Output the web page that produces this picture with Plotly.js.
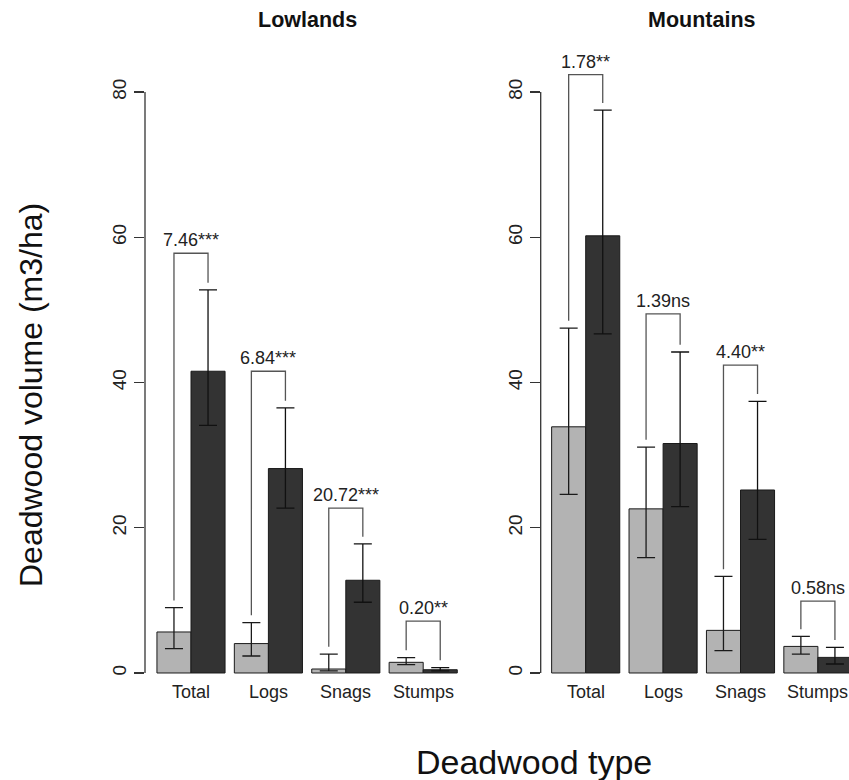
<!DOCTYPE html>
<html>
<head>
<meta charset="utf-8">
<script src="https://cdn.plot.ly/plotly-3.0.1.min.js"></script>
<style>html,body{margin:0;padding:0;background:#fff;}#chart{width:849px;height:780px;}</style>
</head>
<body>
<div id="chart"></div>
<script>
// ---------------- data ----------------
const categories = ['Total', 'Logs', 'Snags', 'Stumps'];
const panelTitles = ['Lowlands', 'Mountains'];
const yTicks = [0, 20, 40, 60, 80];

// Lowlands
const lowLight    = [5.65, 4.05, 0.55, 1.47];
const lowLightHi  = [9.0, 6.94, 2.6, 2.12];
const lowLightLo  = [3.36, 2.34, 0.28, 1.16];
const lowDark     = [41.55, 28.15, 12.77, 0.45];
const lowDarkHi   = [52.75, 36.5, 17.77, 0.75];
const lowDarkLo   = [34.1, 22.7, 9.74, 0.3];
const lowBracket  = [57.8, 41.55, 22.7, 7.15];
const lowLabels   = ['7.46***', '6.84***', '20.72***', '0.20**'];

// Mountains
const mtLight     = [33.9, 22.6, 5.87, 3.66];
const mtLightHi   = [47.5, 31.1, 13.3, 5.04];
const mtLightLo   = [24.6, 15.9, 3.07, 2.6];
const mtDark      = [60.2, 31.6, 25.2, 2.15];
const mtDarkHi    = [77.5, 44.2, 37.4, 3.53];
const mtDarkLo    = [46.7, 22.9, 18.4, 1.24];
const mtBracket   = [82.4, 49.45, 42.4, 9.9];
const mtLabels    = ['1.78**', '1.39ns', '4.40**', '0.58ns'];

// ---------------- layout helpers ----------------
const W = 849, H = 780;
const FONT = 'Liberation Sans, Arial, Helvetica, sans-serif';
const LIGHT = '#b3b3b3', DARK = '#333333';
const bargap = 0.12;
const legGap = 1.0;       // gap between error bar top and bracket leg
const idx = categories.map((c, i) => i);

const zeroPx = 673, pxPerUnit = 7.2625;
const yRange = [-0.3, 88];
const yDom = [(H - (zeroPx - yRange[0] * pxPerUnit)) / H, (H - (zeroPx - yRange[1] * pxPerUnit)) / H];

const spacing = 77.4;
const panels = [
  {axisPx: 145, c0: 191, rightPx: 475},
  {axisPx: 540.7, c0: 585.7, rightPx: 849}
];

const sets = [
  {a: lowLight, aHi: lowLightHi, aLo: lowLightLo, b: lowDark, bHi: lowDarkHi, bLo: lowDarkLo, br: lowBracket, lab: lowLabels},
  {a: mtLight, aHi: mtLightHi, aLo: mtLightLo, b: mtDark, bHi: mtDarkHi, bLo: mtDarkLo, br: mtBracket, lab: mtLabels}
];

const traces = [];
const annotations = [];
const shapes = [];
const layout = {
  width: W, height: H,
  margin: {l: 0, r: 0, t: 0, b: 0},
  paper_bgcolor: '#fff', plot_bgcolor: '#fff',
  barmode: 'group', bargap: bargap, bargroupgap: 0,
  showlegend: false,
  font: {family: FONT, color: '#222'}
};

const off = (1 - bargap) / 4;

sets.forEach((s, p) => {
  const xa = p === 0 ? 'x' : 'x2';
  const ya = p === 0 ? 'y' : 'y2';
  const pan = panels[p];
  const errA = {type: 'data', symmetric: false,
    array: s.a.map((v, i) => s.aHi[i] - v), arrayminus: s.a.map((v, i) => v - s.aLo[i]),
    color: '#1a1a1a', thickness: 1.3, width: 9};
  const errB = {type: 'data', symmetric: false,
    array: s.b.map((v, i) => s.bHi[i] - v), arrayminus: s.b.map((v, i) => v - s.bLo[i]),
    color: '#111', thickness: 1.3, width: 9};
  traces.push({type: 'bar', x: idx, y: s.a, xaxis: xa, yaxis: ya,
    marker: {color: LIGHT, line: {color: '#1a1a1a', width: 1}}, error_y: errA, hoverinfo: 'skip'});
  traces.push({type: 'bar', x: idx, y: s.b, xaxis: xa, yaxis: ya,
    marker: {color: DARK, line: {color: '#1a1a1a', width: 1}}, error_y: errB, hoverinfo: 'skip'});
  // brackets
  const bx = [], by = [];
  idx.forEach(i => {
    bx.push(i - off, i - off, i + off, i + off, null);
    by.push(s.aHi[i] + legGap, s.br[i], s.br[i], s.bHi[i] + legGap, null);
  });
  traces.push({type: 'scatter', mode: 'lines', x: bx, y: by, xaxis: xa, yaxis: ya,
    line: {color: '#555', width: 1.3}, hoverinfo: 'skip', cliponaxis: false});
  // bracket labels
  idx.forEach(i => {
    annotations.push({xref: xa, yref: ya, x: i, y: s.br[i], text: s.lab[i], showarrow: false,
      yanchor: 'middle', yshift: 13, font: {family: FONT, size: 18, color: '#222'}});
  });
  // category labels (as annotations so the last one is never dropped at the edge)
  idx.forEach(i => {
    annotations.push({xref: xa, yref: 'paper', x: i, y: (H - 692) / H, text: categories[i], showarrow: false,
      xanchor: 'center', yanchor: 'middle', font: {family: FONT, size: 18, color: '#222'}});
  });
  // panel title
  annotations.push({xref: xa, yref: 'paper', x: (idx[0] + idx[idx.length - 1]) / 2, y: (H - 20) / H,
    text: '<b>' + panelTitles[p] + '</b>', showarrow: false, yanchor: 'middle',
    font: {family: FONT, size: 21.5, color: '#111'}});
  // y axis line from 0 to 80
  shapes.push({type: 'line', xref: xa + ' domain', yref: ya, x0: 0, x1: 0,
    y0: yTicks[0], y1: yTicks[yTicks.length - 1], line: {color: '#333', width: 1.3}});

  const xmin = -(pan.c0 - pan.axisPx) / spacing;
  const xmax = (pan.rightPx - pan.c0) / spacing;
  layout[p === 0 ? 'xaxis' : 'xaxis2'] = {
    domain: [pan.axisPx / W, pan.rightPx / W], range: [xmin, xmax], anchor: ya,
    showticklabels: false, ticks: '', showline: false, showgrid: false, zeroline: false,
    fixedrange: true
  };
  layout[p === 0 ? 'yaxis' : 'yaxis2'] = {
    domain: yDom, range: yRange, anchor: xa,
    tickvals: yTicks, ticks: 'outside', ticklen: 10, tickwidth: 1.3, tickcolor: '#333',
    tickangle: -90, showline: false, showgrid: false, zeroline: false,
    tickfont: {family: FONT, size: 19, color: '#222'}, fixedrange: true
  };
});

// axis titles
annotations.push({xref: 'paper', yref: 'paper', x: 534 / W, y: (H - 762) / H, text: 'Deadwood type',
  showarrow: false, xanchor: 'center', yanchor: 'middle', font: {family: FONT, size: 34, color: '#111'}});
annotations.push({xref: 'paper', yref: 'paper', x: 31 / W, y: (H - 395) / H, text: 'Deadwood volume (m3/ha)',
  showarrow: false, textangle: -90, xanchor: 'center', yanchor: 'middle', font: {family: FONT, size: 32, color: '#111'}});

layout.annotations = annotations;
layout.shapes = shapes;

Plotly.newPlot('chart', traces, layout, {displayModeBar: false, staticPlot: true});
</script>
</body>
</html>
